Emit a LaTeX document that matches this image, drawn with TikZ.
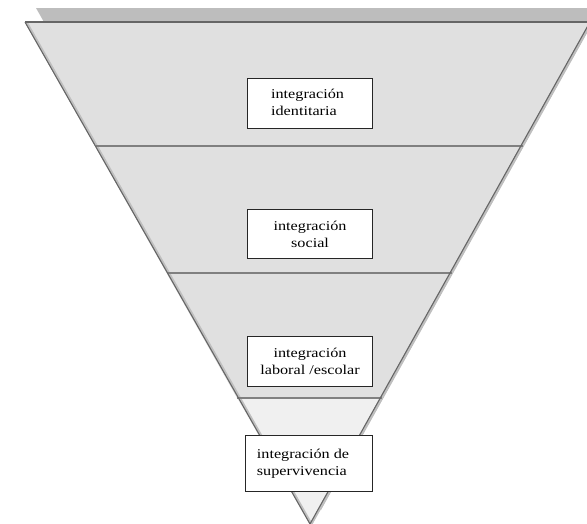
\documentclass[tikz,border=0pt]{standalone}
\usepackage{fontspec}
\setmainfont{Liberation Serif}
\newfontfamily\boxfont[FakeStretch=1.2]{Liberation Serif}
\begin{document}
\begin{tikzpicture}[x=1pt,y=-1pt,
  edge/.style={draw=black!60,line width=1.1pt},
  divider/.style={draw=black!50,line width=1.6pt},
  labelbox/.style={draw=black!85,line width=1.1pt,fill=white,inner sep=0pt,
    font=\boxfont\fontsize{13.5}{17}\selectfont},
]
\useasboundingbox (0,0) rectangle (587,523);
\colorlet{bandfill}{black!12}
\colorlet{tipfill}{black!6}
% corner points of the funnel
\coordinate (tl) at (25,22);
\coordinate (tr) at (590,22);
\coordinate (ap) at (310,524);
\coordinate (l1) at (96,146);   \coordinate (r1) at (523,146);
\coordinate (l2) at (167,273);  \coordinate (r2) at (452,273);
\coordinate (l3) at (237,398);  \coordinate (r3) at (382,398);
% backdrop shadow
\fill[black!26] ([shift={(11,-14)}]tl) -- ([shift={(11,-14)}]tr) -- ([shift={(11,-14)}]ap) -- cycle;
% bands
\fill[bandfill] (tl) -- (tr) -- (r3) -- (l3) -- cycle;
\fill[tipfill] (l3) -- (r3) -- (ap) -- cycle;
% soft edge shadow
\draw[black!25,line width=2.6pt] ([xshift=1.2]tl) -- ([xshift=1.2]ap) -- ([xshift=1.2]tr);
% dividers
\draw[divider] (l1) -- (r1);
\draw[divider] (l2) -- (r2);
\draw[divider] (l3) -- (r3);
% outline
\draw[edge,line join=miter] (tl) -- (tr);
\draw[edge] (tl) -- (ap) -- (tr);
% labels
\node[labelbox,minimum width=125,minimum height=50,anchor=north west,align=left] (b1) at (247,78)
  {\raisebox{2pt}{\begin{tabular}{@{}l@{}}integración\\identitaria\end{tabular}}\hspace*{5pt}};
\node[labelbox,minimum width=125,minimum height=49,anchor=north west,align=center] (b2) at (247,209)
  {integración\\social};
\node[labelbox,minimum width=125,minimum height=50,anchor=north west,align=center] (b3) at (247,336)
  {integración\\laboral /escolar};
\node[labelbox,minimum width=127,minimum height=56,anchor=north west,align=left] (b4) at (245,435)
  {\raisebox{4pt}{\begin{tabular}{@{}l@{}}integración de\\supervivencia\end{tabular}}\hspace*{12pt}};
\end{tikzpicture}
\end{document}
